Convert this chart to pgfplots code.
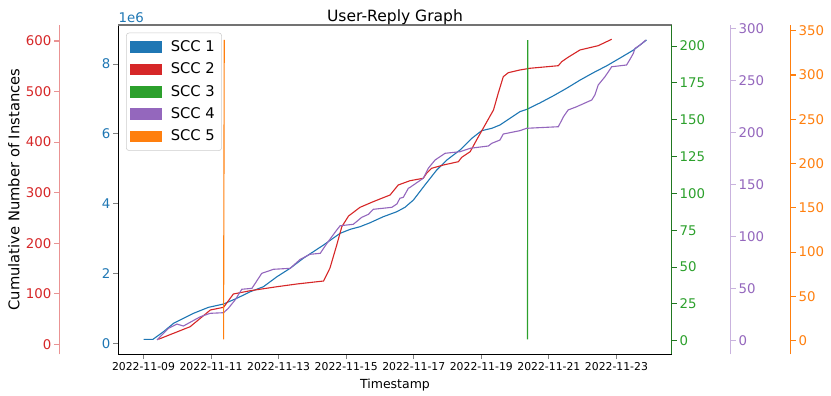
\documentclass[border=0pt]{standalone}
\usepackage{pgfplots}
\pgfplotsset{compat=1.18}
\usepackage{fontspec}
\setmainfont{DejaVu Sans}

\definecolor{tabblue}{HTML}{1F77B4}
\definecolor{tabred}{HTML}{D62728}
\definecolor{tabgreen}{HTML}{2CA02C}
\definecolor{tabpurple}{HTML}{9467BD}
\definecolor{taborange}{HTML}{FF7F0E}

\pgfplotsset{
  base/.style={
    at={(0,0)}, anchor=south west,
    scale only axis, width=398.4pt, height=237.1pt,
    xmin=8.255, xmax=24.635,
    tick align=outside, major tick length=3.5pt,
    /pgf/number format/assume math mode=true,
    scaled y ticks=false,
    every tick/.append style={line width=0.8pt},
    axis line style={line width=0.8pt, -},
    yticklabel style={font=\fontsize{9.6}{11}\selectfont, inner sep=0pt},
    clip=false,
  },
  twin/.style={base, hide x axis, axis y line*=#1},
  series/.style={line width=0.8pt, #1},
}

\begin{document}
\begin{tikzpicture}
\path[use as bounding box] (-85.2pt,-30pt) rectangle (513.1pt,255.1pt);

% SCC 1 on the main axis
\begin{axis}[base,
  ymin=-315000, ymax=9120000,
  axis x line*=bottom, axis y line*=left,
  xtick={9,11,13,15,17,19,21,23},
  xticklabels={2022-11-09,2022-11-11,2022-11-13,2022-11-15,2022-11-17,2022-11-19,2022-11-21,2022-11-23},
  xticklabel style={font=\fontsize{7.8}{9}\selectfont, inner sep=0pt, yshift=-2pt},
  ytick={0,2000000,4000000,6000000,8000000},
  yticklabels={0,2,4,6,8},
  yticklabel style={text=tabblue, xshift=-2pt},
]
\addplot[series=tabblue] coordinates {
  (9.00,115000) (9.28,115000) (9.59,332000) (9.89,573000) (10.48,860000)
  (10.92,1030000) (11.37,1126000) (11.76,1289000) (12.16,1478000)
  (12.55,1622000) (12.95,1908000) (13.34,2149000) (13.73,2436000)
  (14.33,2817000) (14.82,3152000) (15.12,3266000) (15.41,3341000)
  (15.71,3456000) (16.10,3628000) (16.50,3771000) (16.74,3897000)
  (16.99,4106000) (17.33,4536000) (17.68,4966000) (17.98,5252000)
  (18.37,5539000) (18.72,5874000) (19.01,6092000) (19.31,6160000)
  (19.55,6255000) (19.85,6447000) (20.14,6636000) (20.34,6700000)
  (20.74,6890000) (21.13,7090000) (21.53,7310000) (21.92,7540000)
  (22.31,7750000) (22.71,7950000) (23.10,8170000) (23.50,8400000)
  (23.89,8690000)
};
\draw[black!55, line width=0.8pt] (rel axis cs:0,1) -- (rel axis cs:1,1);
\node[anchor=base, font=\fontsize{11.2}{13}\selectfont] at ([yshift=2.2pt]rel axis cs:0.5,1) {User-Reply Graph};
\node[anchor=base west, inner sep=0pt, text=tabblue, font=\fontsize{9.6}{11}\selectfont] at ([yshift=1.8pt]rel axis cs:0,1) {1e6};
\node[anchor=base, inner sep=0pt, font=\fontsize{9}{11}\selectfont] at ([yshift=-24.3pt]rel axis cs:0.5,0) {Timestamp};
\node[anchor=base, inner sep=0pt, rotate=90, font=\fontsize{10.6}{12}\selectfont] at ([xshift=-71.3pt]rel axis cs:0,0.5) {Cumulative Number of Instances};
\end{axis}

% SCC 2, red axis on the far left
\begin{axis}[twin=left,
  ymin=-19.8, ymax=631.6,
  ytick={0,100,200,300,400,500,600},
  axis y line shift=42.5pt,
  y axis line style={draw=tabred!50},
  ytick style={draw=tabred!50},
  yticklabel style={text=tabred, xshift=-2pt},
]
\addplot[series=tabred] coordinates {
  (9.44,9.9) (10.38,34.8) (10.98,67.9) (11.37,73.2) (11.66,99.5)
  (12.16,106.0) (12.95,113.9) (13.54,119.3) (14.33,125.2) (14.52,150.9)
  (14.72,196.4) (14.87,232.6) (15.07,253.8) (15.41,271.0) (15.80,282.1)
  (16.30,295.4) (16.54,315.1) (16.89,323.6) (17.28,328.4) (17.38,338.3)
  (17.53,348.2) (17.88,354.7) (18.32,361.2) (18.42,369.9) (18.67,381.0)
  (18.86,404.2) (19.11,433.9) (19.36,463.5) (19.50,496.5) (19.65,529.4)
  (19.80,537.3) (20.14,542.6) (20.44,546.0) (21.28,551.1) (21.38,559.1)
  (21.57,567.8) (21.92,582.2) (22.46,590.7) (22.86,603.4)
};
\end{axis}

% SCC 3, green axis on the right
\begin{axis}[twin=right,
  ymin=-9.2, ymax=214.3,
  ytick={0,25,50,75,100,125,150,175,200},
  y axis line style={draw=tabgreen!75!black},
  ytick style={draw=tabgreen!75!black},
  yticklabel style={text=tabgreen, xshift=2pt},
]
\addplot[series=tabgreen] coordinates {
  (20.365,1) (20.375,204)
};
\end{axis}

% SCC 4, purple axis
\begin{axis}[twin=right,
  ymin=-13.06, ymax=303.2,
  ytick={0,50,100,150,200,250,300},
  axis y line shift=42.5pt,
  y axis line style={draw=tabpurple!50},
  ytick style={draw=tabpurple!50},
  yticklabel style={text=tabpurple, xshift=2pt},
]
\addplot[series=tabpurple] coordinates {
  (9.40,0.7) (9.74,11.9) (9.99,16.0) (10.18,14.1) (10.68,23.0) (10.97,26.3)
  (11.37,26.9) (11.51,31.1) (11.71,39.1) (11.91,49.4) (12.21,50.3)
  (12.50,64.7) (12.85,68.6) (13.34,69.5) (13.64,78.2) (13.93,83.0)
  (14.23,83.9) (14.43,93.5) (14.72,106.3) (14.82,110.4) (15.21,111.8)
  (15.46,118.5) (15.66,121.4) (15.80,126.2) (16.35,128.1) (16.50,131.3)
  (16.59,136.8) (16.69,137.7) (16.84,146.4) (16.89,147.3) (17.28,156.0)
  (17.43,165.6) (17.63,173.5) (17.93,180.0) (18.37,181.5) (18.67,184.8)
  (19.21,187.0) (19.31,189.6) (19.55,192.7) (19.65,198.5) (20.14,201.7)
  (20.34,204.0) (21.28,205.5) (21.43,215.1) (21.57,221.6) (21.82,224.7)
  (22.27,231.2) (22.36,236.0) (22.46,245.6) (22.66,253.5) (22.86,263.1)
  (23.30,264.8) (23.40,270.2) (23.50,276.0) (23.55,280.8) (23.70,284.0)
  (23.87,288.8)
};
\end{axis}

% SCC 5, orange axis, and the legend
\begin{axis}[twin=right,
  ymin=-15.35, ymax=356.4,
  ytick={0,50,100,150,200,250,300,350},
  axis y line shift=85.7pt,
  y axis line style={draw=taborange},
  ytick style={draw=taborange},
  yticklabel style={text=taborange, xshift=2pt},
  legend cell align=left,
  legend image code/.code={
    \fill[#1, draw=none, fill opacity=1, sharp corners] (0pt,-4.2pt) rectangle (22.5pt,4.2pt);
    \path[draw=none] (0pt,0pt) -- (27pt,0pt);
  },
  legend style={at={(0.0139,0.9766)}, anchor=north west,
    draw=black!20, rounded corners=2pt, fill=white, fill opacity=0.8, text opacity=1,
    font=\fontsize{10.6}{12}\selectfont, inner xsep=3pt, inner ysep=3.5pt, row sep=2.7pt},
]
\addlegendimage{tabblue}
\addlegendentry{SCC 1}
\addlegendimage{tabred}
\addlegendentry{SCC 2}
\addlegendimage{tabgreen}
\addlegendentry{SCC 3}
\addlegendimage{tabpurple}
\addlegendentry{SCC 4}
\addlegendimage{taborange}
\addlegendentry{SCC 5}
\addplot[series=taborange, forget plot] coordinates {
  (11.37,1.5) (11.39,339.6)
};
\end{axis}
\end{tikzpicture}
\end{document}
